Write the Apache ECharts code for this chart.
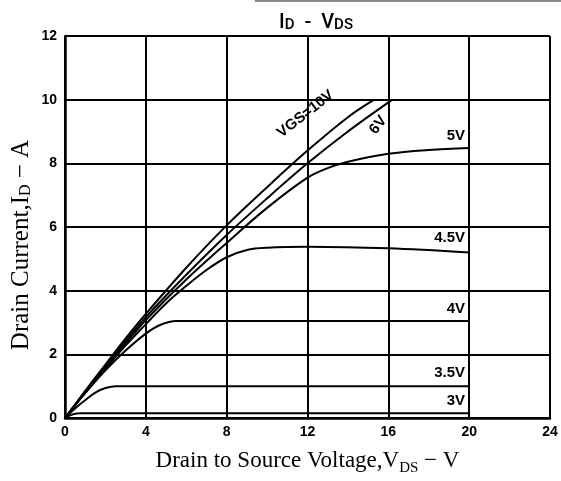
<!DOCTYPE html>
<html>
<head>
<meta charset="utf-8">
<script src="https://cdn.jsdelivr.net/npm/echarts@6/dist/echarts.min.js"></script>
<style>
  html, body { margin: 0; padding: 0; background: #fff; }
  #chart { width: 561px; height: 481px; }
</style>
</head>
<body>
<div id="chart"></div>
<script>
// I_D - V_DS output characteristics
const xTicks = [0, 4, 8, 12, 16, 20, 24]
const yTicks = [0, 2, 4, 6, 8, 10, 12]

const vgs10 = [[0,0],[1,0.85],[2,1.68],[3,2.5],[4,3.27],[6,4.72],[8,6.05],[10,7.25],[12,8.4],[14,9.45],[15.3,10]]
const vgs6 = [[0,0],[1,0.83],[2,1.63],[3,2.42],[4,3.17],[6,4.5],[8,5.75],[10,6.9],[12,8.0],[14,9.0],[16.2,10]]
const vgs5 = [[0,0],[1,0.82],[2,1.6],[3,2.35],[4,3.08],[6,4.35],[8,5.5],[10,6.6],[12,7.55],[13,7.85],[14,8.05],[16,8.3],[18,8.42],[20,8.48]]
const vgs45 = [[0,0],[1,0.8],[2,1.55],[3,2.28],[4,2.95],[5,3.6],[6,4.15],[7,4.65],[8,5.05],[9,5.28],[10,5.35],[12,5.38],[16,5.33],[20,5.2]]
const vgs4 = [[0,0],[1,0.78],[2,1.5],[3,2.12],[4,2.65],[4.7,2.92],[5.5,3.05],[12,3.05],[20,3.05]]
const vgs35 = [[0,0],[0.5,0.3],[1,0.56],[1.5,0.8],[2,0.94],[2.5,1.0],[20,1.0]]
const vgs3 = [[0,0],[0.4,0.12],[0.8,0.15],[20,0.15]]

const curves = [vgs10, vgs6, vgs5, vgs45, vgs4, vgs35, vgs3]
const curveNames = ['VGS=10V', '6V', '5V', '4.5V', '4V', '3.5V', '3V']
// where each curve's tag sits, in axis units
const tagAt = [[11.9, 9.55], [15.5, 9.2], [19.8, 8.85], [19.8, 5.65], [19.8, 3.43], [19.8, 1.43], [19.8, 0.55]]
const tagTilt = [38, 52, 0, 0, 0, 0, 0]

const tickFont = '"Liberation Sans Narrow", "Liberation Sans", sans-serif'
const serif = '"Liberation Serif", "DejaVu Serif", serif'

let chart = echarts.init(document.getElementById('chart'), null, { renderer: 'canvas' })

function tagFor(i) {
  const rotated = tagTilt[i] !== 0
  return {
    symbol: 'circle',
    symbolSize: 0,
    silent: true,
    data: [{ coord: tagAt[i], value: curveNames[i] }],
    label: {
      show: true,
      formatter: curveNames[i],
      position: rotated ? 'inside' : 'left',
      distance: 0,
      rotate: tagTilt[i],
      color: '#000',
      fontFamily: tickFont,
      fontWeight: 'bold',
      fontSize: 15,
    },
  }
}

const series = curves.map((pts, i) => ({
  name: curveNames[i],
  type: 'line',
  data: pts,
  smooth: 0.35,
  showSymbol: false,
  symbol: 'none',
  lineStyle: { color: '#000', width: 2 },
  markPoint: tagFor(i),
  z: 3,
}))

const option = {
  animation: false,
  backgroundColor: '#fff',
  title: {
    text: '{a|I}{b|D}{a|  -  V}{b|DS}',
    left: 311,
    top: 8,
    textAlign: 'center',
    textStyle: {
      fontWeight: 'normal',
      rich: {
        a: { fontFamily: 'Roboto, sans-serif', fontWeight: 500, fontSize: 20, color: '#000', verticalAlign: 'bottom' },
        b: { fontFamily: 'Roboto, sans-serif', fontWeight: 500, fontSize: 15, color: '#000', verticalAlign: 'bottom' },
      },
    },
  },
  grid: { left: 65, right: 11, top: 36, bottom: 50, containLabel: false },
  xAxis: {
    type: 'value',
    min: 0,
    max: 24,
    interval: 4,
    axisLine: { show: true, lineStyle: { color: '#000', width: 2.5 } },
    axisTick: { show: false },
    axisLabel: { color: '#000', fontFamily: tickFont, fontWeight: 'bold', fontSize: 14, margin: 7 },
    splitLine: { show: true, lineStyle: { color: '#000', width: 2 } },
    name: '{t|Drain to Source Voltage,V}{s|DS}{t| \u2212 V}',
    nameLocation: 'middle',
    nameGap: 31,
    nameTextStyle: {
      rich: {
        t: { fontFamily: serif, fontSize: 23, color: '#000', verticalAlign: 'bottom' },
        s: { fontFamily: serif, fontSize: 15, color: '#000', verticalAlign: 'bottom', padding: [0, 0, -4, 0] },
      },
    },
  },
  yAxis: {
    type: 'value',
    min: 0,
    max: 12,
    interval: 2,
    axisLine: { show: true, lineStyle: { color: '#000', width: 2.5 } },
    axisTick: { show: false },
    axisLabel: { color: '#000', fontFamily: tickFont, fontWeight: 'bold', fontSize: 14, margin: 8 },
    splitLine: { show: true, lineStyle: { color: '#000', width: 2 } },
  },
  graphic: [
    {
      type: 'text',
      x: 21,
      y: 245,
      rotation: Math.PI / 2,
      style: {
        text: '{t|Drain Current,I}{s|D}{t| \u2212 A}',
        align: 'center',
        verticalAlign: 'middle',
        rich: {
          t: { fontFamily: serif, fontSize: 25, fill: '#000', verticalAlign: 'bottom' },
          s: { fontFamily: serif, fontSize: 16, fill: '#000', verticalAlign: 'bottom' },
        },
      },
    },
    {
      type: 'line',
      shape: { x1: 255, y1: 1, x2: 561, y2: 1 },
      style: { stroke: '#888', lineWidth: 2 },
    },
  ],
  series: series,
}

chart.setOption(option)
</script>
</body>
</html>
